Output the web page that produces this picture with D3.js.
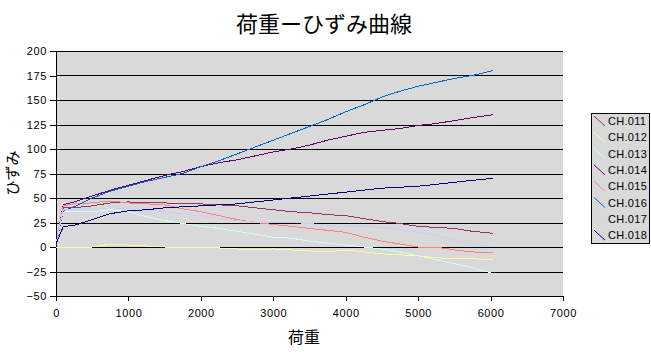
<!DOCTYPE html>
<html>
<head>
<meta charset="utf-8">
<script src="https://cdn.jsdelivr.net/npm/d3@7"></script>
<style>
    body { margin: 0; background: #fff; }
    text { font-family: "Liberation Sans", Arial, sans-serif; }
    .jp { font-family: "Noto Sans CJK JP", sans-serif; }
</style>
</head>
<body>
<div id="chart"></div>
<script>

// load values (x) shared by every channel
const loads = [0, 100, 250, 500, 750, 1000, 1250, 1500, 1750, 2000, 2250, 2500, 2750,
    3000, 3250, 3500, 3750, 4000, 4250, 4500, 4750, 5000, 5250, 5500, 5750, 6030];

const seriesNames = ["CH.011", "CH.012", "CH.013", "CH.014", "CH.015", "CH.016", "CH.017", "CH.018"];
const seriesColors = ["#993366", "#FFFF99", "#CCFFFF", "#660066", "#FF8080", "#0066CC", "#CCCCFF", "#000080"];

const ch011 = [3, 40, 40, 42, 45, 46, 45, 45, 44, 44, 43, 42, 40, 38, 36, 35, 33, 32, 29, 26, 24, 21, 20, 19, 16, 14];
const ch012 = [0, 0, 0, 0, 3, 2, 1, 0, 0, 0, -1, -2, -3, -2, -3, -4, -5, -3, -5, -7, -8, -9, -11, -12, -12, -13];
const ch013 = [3, 36, 36, 36, 38, 36, 31, 27, 24, 21, 19, 16, 13, 10, 9, 6, 4, 2, 0, -2, -5, -9, -13, -17, -21, -27];
const ch014 = [3, 43, 46, 52, 58, 63, 68, 73, 77, 82, 86, 89, 93, 97, 100, 104, 109, 113, 117, 119, 121, 124, 126, 129, 132, 135];
const ch015 = [3, 42, 44, 45, 47, 45, 44, 43, 39, 36, 32, 28, 25, 23, 21, 19, 17, 15, 10, 6, 3, 0, 0, -3, -5, -6];
const ch016 = [2, 37, 41, 50, 57, 62, 67, 71, 75, 82, 88, 95, 102, 109, 116, 123, 130, 138, 145, 153, 159, 164, 168, 172, 175, 180];
const ch017 = [3, 38, 38, 38, 40, 39, 37, 36, 34, 32, 29, 27, 25, 25, 25, 24, 22, 21, 21, 20, 18, 15, 12, 7, 3, 0];
const ch018 = [3, 21, 22, 28, 34, 37, 38, 40, 41, 42, 43, 44, 46, 48, 50, 52, 54, 56, 58, 60, 61, 62, 64, 66, 68, 70];

const xTicks = [0, 1000, 2000, 3000, 4000, 5000, 6000, 7000];
const yTicks = [-50, -25, 0, 25, 50, 75, 100, 125, 150, 175, 200];

const seriesValues = [ch011, ch012, ch013, ch014, ch015, ch016, ch017, ch018];

const series = seriesNames.map((name, i) => ({
    name: name,
    color: seriesColors[i],
    values: loads.map((l, j) => ({load: l, value: seriesValues[i][j]}))
}));

const width = 651, height = 352;
const margin = {top: 51, right: 88, bottom: 56, left: 56};
const innerW = width - margin.left - margin.right;
const innerH = height - margin.top - margin.bottom;

const svg = d3.select("#chart").append("svg")
    .attr("width", width)
    .attr("height", height);

const g = svg.append("g")
    .attr("transform", `translate(${margin.left}, ${margin.top})`);

// scales
const x = d3.scaleLinear().domain([0, 7000]).range([0, innerW]);
const y = d3.scaleLinear().domain([-50, 200]).range([innerH, 0]);

// plot background
g.append("rect")
    .attr("width", innerW)
    .attr("height", innerH)
    .attr("fill", "#D9D9D9");

// horizontal grid lines
g.append("g")
    .selectAll("line")
    .data(yTicks)
    .enter().append("line")
    .attr("x1", 0)
    .attr("x2", innerW)
    .attr("y1", d => Math.round(y(d)) + 0.5)
    .attr("y2", d => Math.round(y(d)) + 0.5)
    .attr("stroke", "#000")
    .attr("shape-rendering", "crispEdges");

// axes
const yAxis = d3.axisLeft(y).tickValues(yTicks).tickSize(6).tickPadding(3);
const xAxis = d3.axisBottom(x).tickValues(xTicks).tickSize(5).tickPadding(8).tickFormat(d3.format("d"));

const yAxisGroup = g.append("g").call(yAxis);
const xAxisGroup = g.append("g")
    .attr("transform", `translate(0, ${innerH})`)
    .call(xAxis);

[yAxisGroup, xAxisGroup].forEach(ax => {
    ax.selectAll("path, line").attr("stroke", "#000").attr("shape-rendering", "crispEdges");
    ax.selectAll("text")
        .attr("fill", "#000")
        .style("font-size", "11px")
        .style("letter-spacing", "0.6px")
        .style("font-family", "'Liberation Sans', Arial, sans-serif");
});
yAxisGroup.select(".domain").attr("d", `M0.5,0V${innerH}`);

// lines (aliased, like the original)
const line = d3.line()
    .x(d => x(d.load))
    .y(d => y(d.value));

g.append("g")
    .selectAll("path")
    .data(series)
    .enter().append("path")
    .attr("d", d => line(d.values))
    .attr("fill", "none")
    .attr("stroke", d => d.color)
    .attr("stroke-width", 1)
    .attr("shape-rendering", "crispEdges");

// title
svg.append("text")
    .attr("class", "jp")
    .attr("x", 324)
    .attr("y", 32)
    .attr("text-anchor", "middle")
    .style("font-size", "22px")
    .text("荷重ーひずみ曲線");

// axis titles
svg.append("text")
    .attr("class", "jp")
    .attr("x", 304)
    .attr("y", 343)
    .attr("text-anchor", "middle")
    .style("font-size", "16px")
    .text("荷重");

svg.append("text")
    .attr("class", "jp")
    .attr("transform", "translate(18, 173) rotate(-90)")
    .attr("text-anchor", "middle")
    .style("font-size", "15px")
    .text("ひずみ");

// legend
const legend = svg.append("g").attr("transform", "translate(591, 113)");
const rowH = 16.3;

legend.append("rect")
    .attr("x", 0.5)
    .attr("y", 0.5)
    .attr("width", 58)
    .attr("height", 130)
    .attr("fill", "#D9D9D9")
    .attr("stroke", "#000")
    .attr("shape-rendering", "crispEdges");

const rows = legend.selectAll(".row")
    .data(series)
    .enter().append("g")
    .attr("class", "row")
    .attr("transform", (d, i) => `translate(0, ${8 + i * rowH})`);

rows.append("line")
    .attr("x1", 3).attr("y1", -5)
    .attr("x2", 14).attr("y2", 5)
    .attr("stroke", d => d.color);

rows.append("text")
    .attr("x", 17)
    .attr("y", 4)
    .style("font-size", "11px")
    .style("letter-spacing", "0.3px")
    .text(d => d.name);

</script>
</body>
</html>
